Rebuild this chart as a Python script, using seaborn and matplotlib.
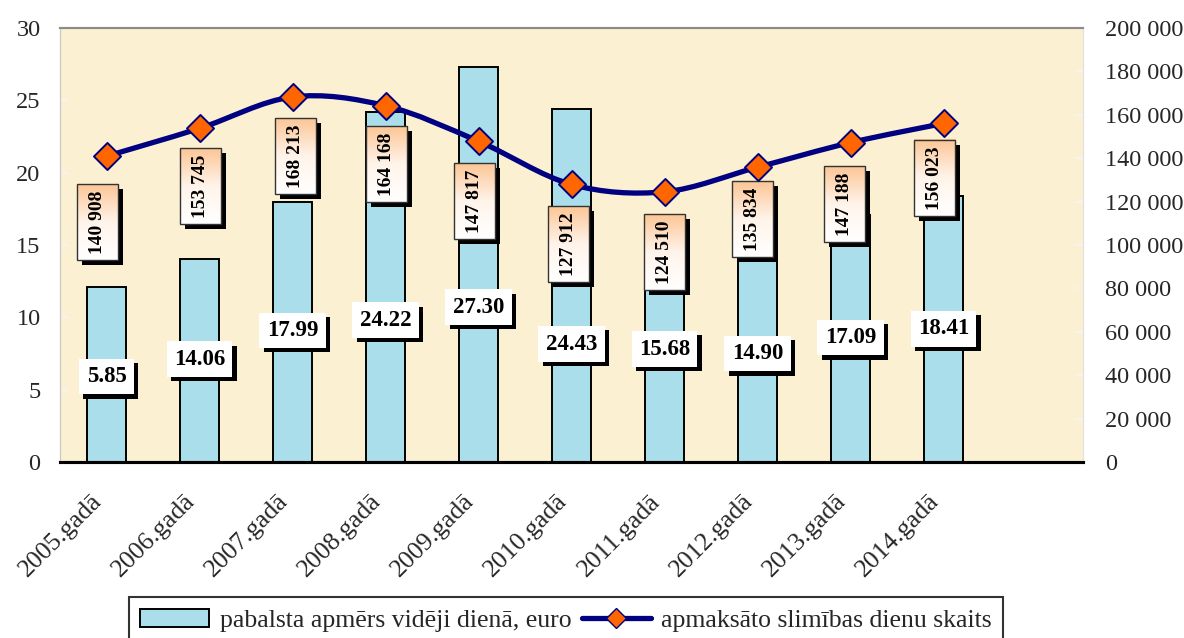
import numpy as np
import matplotlib
matplotlib.use('Agg')
import matplotlib.pyplot as plt
import seaborn as sns
from matplotlib.path import Path
from matplotlib.patches import PathPatch, Rectangle, Patch
from matplotlib.lines import Line2D
from matplotlib.colors import LinearSegmentedColormap
from matplotlib import transforms
import matplotlib.patheffects as pe
from matplotlib.ticker import MultipleLocator, FuncFormatter

# data
years = ['2005.gadā', '2006.gadā', '2007.gadā', '2008.gadā', '2009.gadā',
         '2010.gadā', '2011.gadā', '2012.gadā', '2013.gadā', '2014.gadā']
bar_heights = [12.1, 14.06, 17.99, 24.22, 27.30, 24.43, 15.68, 14.90, 17.09, 18.41]
bar_labels = ['5.85', '14.06', '17.99', '24.22', '27.30', '24.43', '15.68', '14.90', '17.09', '18.41']
days = [140908, 153745, 168213, 164168, 147817, 127912, 124510, 135834, 147188, 156023]
day_labels = ['140 908', '153 745', '168 213', '164 168', '147 817',
              '127 912', '124 510', '135 834', '147 188', '156 023']

# label placement (layout only)
bar_lbl_y = [5.9, 7.1, 9.1, 9.8, 10.7, 8.15, 7.8, 7.5, 8.6, 9.2]
day_lbl_y = [110600, 127200, 141000, 137300, 120300, 100500, 96800, 112000, 118900, 130900]
day_lbl_dx = [-9, 1, 3, 1, -4, -3, 0, -5, -6, -9]

sns.set_style('white')
plt.rcParams['font.family'] = ['Liberation Serif', 'DejaVu Serif']

W, H = 1184, 638
fig = plt.figure(figsize=(W / 100, H / 100), dpi=100)
ax_l, ax_r, ax_t, ax_b = 60, 1083, 28, 462
ax = fig.add_axes([ax_l / W, 1 - ax_b / H, (ax_r - ax_l) / W, (ax_b - ax_t) / H])
ax.set_facecolor('#FBF0D2')

bar_color = '#A9DEEA'
sns.barplot(x=years, y=bar_heights, ax=ax, color=bar_color, saturation=1,
            width=0.43, edgecolor='black', linewidth=1.4, zorder=2)
ax.set_xlim(-0.5, 10.5)
ax.set_ylim(0, 30)
ax.set_xlabel('')
ax.set_ylabel('')

ax2 = ax.twinx()
ax2.set_ylim(0, 200000)

px_x = (ax_r - ax_l) / 11.0
px_yr = (ax_b - ax_t) / 200000.0

# smooth line (Catmull-Rom bezier through the points)
pts = np.column_stack([np.arange(len(days)), np.array(days, dtype=float)])
verts = [pts[0]]
codes = [Path.MOVETO]
n = len(pts)
for i in range(n - 1):
    p_prev = pts[max(i - 1, 0)]
    p0 = pts[i]
    p1 = pts[i + 1]
    p_next = pts[min(i + 2, n - 1)]
    verts += [p0 + (p1 - p_prev) / 6.0, p1 - (p_next - p0) / 6.0, p1]
    codes += [Path.CURVE4] * 3
ax2.add_patch(PathPatch(Path(verts, codes), fc='none', ec='#000080', lw=3.8,
                        zorder=3, capstyle='round'))
sns.scatterplot(x=np.arange(len(days)), y=days, ax=ax2, marker='D', s=190,
                color='#FF6600', edgecolor='#000080', linewidth=1.4, zorder=6)

# bar value labels: white box with black drop shadow
shadow = [pe.SimplePatchShadow(offset=(3, -3), shadow_rgbFace='black', alpha=1.0), pe.Normal()]
for i, (lbl, y) in enumerate(zip(bar_labels, bar_lbl_y)):
    t = ax.text(i, y, lbl, ha='center', va='center', fontsize=16.5, fontweight='bold',
                color='black', zorder=5,
                bbox=dict(boxstyle='square,pad=0.32', fc='white', ec='none'))
    t.get_bbox_patch().set_path_effects(shadow)

# day count labels: peach gradient box, rotated text
grad_cmap = LinearSegmentedColormap.from_list('peach', ['#FFFFFF', '#FFF4EA', '#FCC696'])
grad = np.linspace(0, 1, 64).reshape(-1, 1)
bw, bh = 41, 76
for i, (lbl, y) in enumerate(zip(day_labels, day_lbl_y)):
    cx = i + day_lbl_dx[i] / px_x
    w = bw / px_x
    h = bh / px_yr
    x0, y0 = cx - w / 2, y - h / 2
    ax2.add_patch(Rectangle((x0 + 5 / px_x, y0 - 5 / px_yr), w, h, fc='black',
                            ec='none', zorder=4))
    ax2.imshow(grad, extent=[x0, x0 + w, y0, y0 + h], origin='lower', cmap=grad_cmap,
               aspect='auto', zorder=4.5, interpolation='bilinear')
    ax2.add_patch(Rectangle((x0, y0), w, h, fc='none', ec='#333333', lw=1.0, zorder=4.6))
    ax2.text(cx, y, lbl, rotation=90, ha='center', va='center', fontsize=14,
             fontweight='bold', color='black', zorder=4.7)

ax2.set_xlim(-0.5, 10.5)
ax2.set_ylim(0, 200000)
ax.set_xlim(-0.5, 10.5)

# axes styling
for a in (ax, ax2):
    for s in a.spines.values():
        s.set_visible(True)
    a.spines['top'].set_color('#8C8C8C')
    a.spines['top'].set_linewidth(1.5)
    a.spines['left'].set_color('#C8C8C8')
    a.spines['right'].set_color('#E2E2E2')
    a.spines['bottom'].set_color('black')
    a.spines['bottom'].set_linewidth(2.2)

ax.yaxis.set_major_locator(MultipleLocator(5))
ax.tick_params(axis='y', direction='in', length=6, color='#F4F4F4', width=1.2,
               labelsize=17.5, pad=14)
ax2.yaxis.set_major_locator(MultipleLocator(20000))
ax2.yaxis.set_major_formatter(FuncFormatter(lambda v, p: f'{int(v):,}'.replace(',', ' ')))
ax2.tick_params(axis='y', direction='in', length=6, color='#F4F4F4', width=1.2,
                labelsize=17.5, pad=16)

ax.set_xticks(np.arange(len(years)))
ax.set_xticklabels(years, rotation=45, ha='right', va='center', rotation_mode='anchor',
                   fontsize=18.5)
ax.set_xticks(np.arange(-0.5, 11, 1), minor=True)
ax.tick_params(axis='x', which='major', length=0, pad=26)
ax.tick_params(axis='x', which='minor', direction='inout', length=12, width=1.5, color='black')
ax2.tick_params(axis='x', which='both', length=0)
for lab in ax.get_xticklabels():
    lab.set_transform(lab.get_transform() + transforms.Affine2D().translate(-8, 0))

# legend
handles = [Patch(fc=bar_color, ec='black', lw=1.4, label='pabalsta apmērs vidēji dienā, euro'),
           Line2D([0], [0], color='#000080', lw=3.8, marker='D', ms=10, mfc='#FF6600',
                  mec='#000080', label='apmaksāto slimības dienu skaits')]
leg = fig.legend(handles=handles, loc='upper center', bbox_to_anchor=(566 / W, 1 - 597 / H),
                 ncol=2, frameon=True, fancybox=False, fontsize=18.5, handlelength=2.7,
                 columnspacing=0.4, handletextpad=0.4, borderpad=0.45, borderaxespad=0)
leg.get_frame().set_edgecolor('black')
leg.get_frame().set_linewidth(1.5)

fig.savefig('out.png', dpi=100)
